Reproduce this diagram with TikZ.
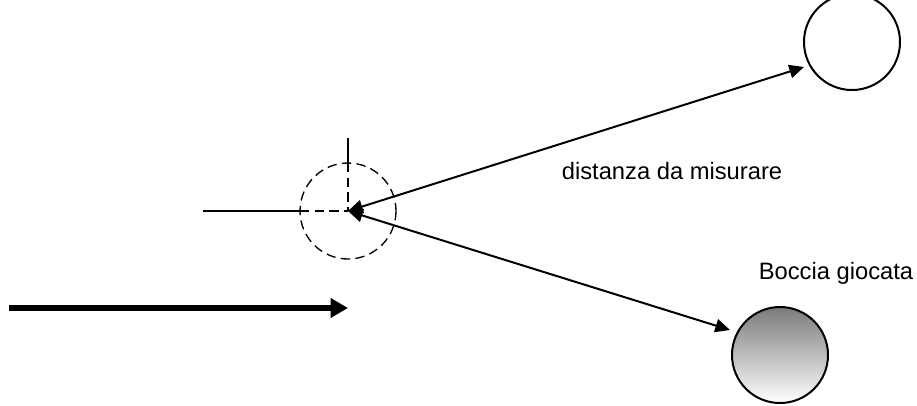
\documentclass[tikz,border=0pt]{standalone}
\usepackage{fontspec}
\setmainfont{Liberation Sans}
\usetikzlibrary{arrows.meta,positioning}
\tikzset{
	boccia/.style={circle, draw, line width=1.5pt, minimum size=72pt, inner sep=0pt},
	misura/.style={line width=1.5pt, {Triangle[length=11pt,width=10pt]}-{Triangle[length=11pt,width=10pt]}},
	tratteggio/.style={dashed, line width=1pt, dash pattern=on 7pt off 4pt},
}
\begin{document}
\begin{tikzpicture}[x=0.75pt, y=-0.75pt, font=\fontsize{17.8}{21}\selectfont]
	\useasboundingbox (0, 0) rectangle (917, 405);
	\coordinate (pallino) at (348, 211);
	\node[boccia] (bersaglio) at (852, 42) {};
	\node[boccia, top color=black!52, bottom color=white, shading angle=0] (giocata) at (780, 355) {};
	\coordinate (puntaA) at (804, 67);
	\coordinate (puntaB) at (730, 330);

	\draw[tratteggio] (pallino) circle (48);
	\draw[line width=1pt] (203, 211) -- (300, 211);
	\draw[tratteggio] (300, 211) -- (pallino);
	\draw[line width=1pt] (348, 138) -- (348, 163);
	\draw[tratteggio] (348, 163) -- (pallino);

	\draw[misura] (pallino) -- (puntaA);
	\draw[misura] (pallino) -- (puntaB);

	\draw[line width=4.8pt, -{Triangle[length=13pt,width=14pt]}] (9, 308) -- (348, 308);

	\node[anchor=base] (testoA) at (672, 179) {distanza da misurare};
	\node[anchor=base] (testoB) at (836, 279) {Boccia giocata};
\end{tikzpicture}
\end{document}
